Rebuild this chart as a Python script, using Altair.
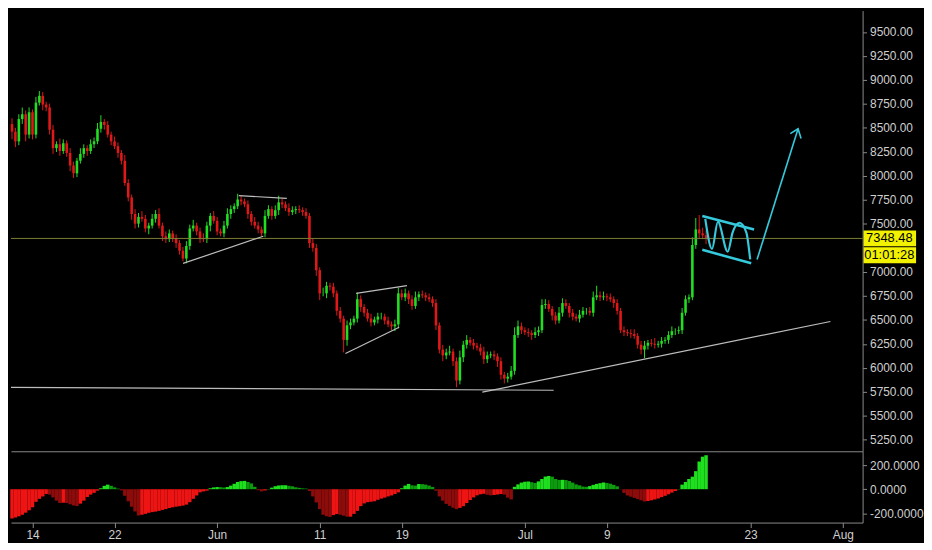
import altair as alt
import pandas as pd

# ---------------- data ----------------
START = "2018-05-12"
STEP_HOURS = 8
first_open = 8540
closes = [
    8461, 8360, 8592, 8642, 8430, 8663, 8430, 8763, 8834, 8743, 8713, 8481,
    8289, 8330, 8259, 8340, 8239, 8108, 8027, 8158, 8229, 8289, 8259, 8330,
    8360, 8491, 8562, 8531, 8430, 8360, 8309, 8239, 8158, 7926, 7775, 7603,
    7502, 7573, 7553, 7452, 7482, 7553, 7603, 7482, 7371, 7341, 7401, 7351,
    7300, 7220, 7139, 7270, 7452, 7482, 7421, 7351, 7341, 7482, 7583, 7532,
    7421, 7401, 7482, 7603, 7654, 7684, 7754, 7734, 7704, 7603, 7522, 7482,
    7442, 7401, 7583, 7654, 7583, 7643, 7724, 7704, 7664, 7623, 7643, 7654,
    7643, 7623, 7583, 7300, 7250, 7018, 6776, 6776, 6856, 6846, 6776, 6594,
    6513, 6291, 6443, 6473, 6513, 6715, 6634, 6574, 6513, 6473, 6503, 6534,
    6534, 6493, 6453, 6433, 6453, 6776, 6735, 6776, 6715, 6645, 6735, 6766,
    6756, 6735, 6715, 6675, 6443, 6190, 6130, 6160, 6170, 6069, 5868, 6110,
    6241, 6291, 6261, 6231, 6211, 6170, 6090, 6130, 6140, 6120, 6069, 5928,
    5888, 5908, 5969, 6342, 6433, 6392, 6372, 6362, 6342, 6372, 6392, 6655,
    6665, 6614, 6544, 6493, 6574, 6675, 6645, 6574, 6534, 6513, 6554, 6594,
    6594, 6574, 6735, 6756, 6735, 6745, 6735, 6715, 6675, 6594, 6392, 6372,
    6362, 6352, 6332, 6241, 6190, 6231, 6261, 6251, 6241, 6251, 6281, 6291,
    6342, 6382, 6382, 6392, 6574, 6715, 6735, 7280, 7442, 7401, 7381, 7348.48,
]
upper_wick = [
    60, 40, 50, 70, 40, 50, 30, 60, 50, 40, 30, 40,
    50, 30, 60, 40, 30, 50, 40, 30, 60, 40, 30, 50,
    40, 60, 70, 30, 40, 30, 50, 40, 30, 60, 40, 30,
    50, 40, 60, 40, 30, 50, 40, 60, 30, 50, 40, 30,
    40, 30, 40, 50, 40, 60, 30, 40, 50, 40, 30, 50,
    40, 30, 50, 60, 40, 30, 60, 40, 30, 40, 30, 50,
    40, 30, 60, 40, 30, 50, 70, 40, 30, 50, 40, 30,
    40, 30, 40, 30, 50, 40, 30, 60, 40, 30, 40, 30,
    40, 30, 50, 40, 30, 70, 40, 30, 40, 50, 30, 40,
    40, 30, 40, 30, 50, 60, 40, 50, 30, 40, 60, 30,
    40, 30, 40, 30, 40, 30, 50, 40, 60, 30, 40, 70,
    40, 50, 30, 40, 30, 40, 50, 40, 30, 40, 30, 40,
    30, 40, 50, 80, 60, 40, 30, 40, 30, 50, 40, 60,
    50, 40, 30, 40, 60, 50, 40, 30, 40, 30, 50, 40,
    30, 40, 60, 100, 40, 50, 30, 40, 30, 40, 30, 40,
    30, 40, 50, 30, 40, 50, 30, 40, 60, 30, 40, 30,
    40, 50, 30, 40, 50, 40, 30, 80, 120, 150, 60, 50,
]
lower_wick = [
    80, 60, 40, 50, 70, 40, 50, 40, 30, 60, 40, 50,
    60, 40, 50, 30, 40, 60, 50, 40, 30, 40, 50, 30,
    40, 30, 40, 50, 30, 40, 30, 50, 40, 30, 40, 60,
    50, 40, 30, 40, 60, 30, 40, 30, 50, 40, 30, 40,
    50, 40, 30, 50, 40, 30, 40, 50, 30, 40, 60, 30,
    40, 30, 40, 30, 50, 40, 30, 40, 30, 50, 40, 30,
    40, 30, 40, 30, 40, 30, 50, 40, 30, 40, 30, 40,
    30, 40, 30, 50, 40, 60, 70, 30, 50, 40, 40, 50,
    40, 130, 60, 40, 30, 40, 50, 40, 30, 40, 30, 40,
    30, 40, 30, 40, 50, 40, 30, 40, 50, 40, 30, 40,
    30, 40, 30, 40, 50, 40, 60, 40, 30, 50, 70, 40,
    50, 40, 30, 40, 30, 40, 50, 40, 30, 40, 60, 50,
    50, 40, 30, 40, 30, 40, 30, 40, 50, 30, 40, 30,
    40, 30, 50, 40, 30, 40, 30, 50, 40, 30, 40, 30,
    40, 30, 40, 30, 40, 30, 40, 30, 50, 40, 30, 40,
    30, 40, 30, 40, 50, 90, 40, 30, 40, 30, 40, 30,
    40, 30, 40, 30, 40, 30, 40, 30, 40, 50, 40, 60,
]
macd_hist = [
    -243, -235, -225, -212, -195, -175, -150, -105, -80, -60, -40, -45,
    -68, -95, -115, -112, -115, -125, -135, -140, -120, -95, -65, -45,
    -30, -12, 8, 28, 38, 28, 15, 5, -10, -55, -100, -145,
    -185, -218, -212, -205, -196, -190, -186, -180, -172, -165, -156, -150,
    -145, -141, -136, -128, -108, -80, -52, -26, -18, -12, 8, 15,
    18, 17, 14, 18, 30, 45, 60, 67, 69, 60, 48, 20,
    -8, -18, -10, 2, 13, 25, 31, 33, 33, 28, 24, 16,
    11, 7, 5, -15, -60, -110, -165, -212, -225, -230, -215, -206,
    -212, -220, -228, -228, -205, -180, -140, -118, -108, -104, -100, -88,
    -78, -70, -60, -52, -40, -26, 8, 30, 44, 32, 30, 43,
    42, 38, 30, 18, -13, -60, -95, -122, -138, -154, -166, -155,
    -141, -115, -90, -68, -51, -42, -38, -46, -51, -48, -44, -40,
    -45, -70, -85, 20, 40, 55, 62, 64, 58, 52, 65, 85,
    105, 110, 104, 85, 77, 78, 76, 68, 55, 40, 32, 22,
    20, 26, 36, 44, 50, 56, 52, 46, 36, 24, -2, -30,
    -52, -62, -72, -82, -92, -102, -98, -92, -85, -77, -66, -55,
    -42, -28, -15, 2, 38, 60, 85, 104, 150, 230, 270, 282,
]

last_price = 7348.48
last_price_label = "7348.48"
countdown_label = "01:01:28"

# the 7250.00 label is hidden behind the price boxes in the reference
price_ticks = [5250, 5500, 5750, 6000, 6250, 6500, 6750, 7000, 7500,
               7750, 8000, 8250, 8500, 8750, 9000, 9250, 9500]
hist_ticks = [-200, 0, 200]
date_ticks = ["2018-05-14", "2018-05-22", "2018-06-01", "2018-06-11", "2018-06-19",
              "2018-07-01", "2018-07-09", "2018-07-23", "2018-08-01"]

# drawn annotations: days after 2018-05-14 and prices
support_days, support_prices = [-2.10, 50.81], [5797, 5767]
trend_days, trend_prices = [43.85, 77.79], [5747, 6483]
tri1_low_days, tri1_low_prices = [14.68, 22.50], [7088, 7371]
tri1_high_days, tri1_high_prices = [20.11, 24.79], [7795, 7765]
tri2_low_days, tri2_low_prices = [30.51, 35.75], [6150, 6423]
tri2_high_days, tri2_high_prices = [31.55, 36.51], [6776, 6856]
flag_top_days, flag_top_prices = [65.30, 70.35], [7583, 7442]
flag_bot_days, flag_bot_prices = [65.30, 70.07], [7230, 7089]
wave_days = [65.59, 66.25, 66.82, 67.78, 68.26, 68.92, 69.59, 69.97]
wave_prices = [7553, 7240, 7522, 7210, 7411, 7512, 7411, 7129]
arrow_days, arrow_prices = [70.64, 74.64], [7129, 8491]
head_days, head_prices = [73.88, 74.64, 74.93], [8441, 8491, 8390]

view_days = [-2.10, 80.93]
price_domain = [5131, 9722]
hist_domain = [-277, 315]

# ---------------- tables ----------------
MS_DAY = 86_400_000


def ms(s):
    return int(pd.Timestamp(s, tz="UTC").value // 1_000_000)


anchor = ms("2018-05-14")
start = ms(START)
n = len(closes)
times = [start + i * STEP_HOURS * 3_600_000 for i in range(n)]
opens = [first_open] + closes[:-1]

UP, DOWN = "#22de22", "#e01818"
cdf = pd.DataFrame({
    "t": times,
    "o": opens,
    "c": closes,
    "hi": [max(o, c) + u for o, c, u in zip(opens, closes, upper_wick)],
    "lo": [min(o, c) - w for o, c, w in zip(opens, closes, lower_wick)],
})
cdf["col"] = [UP if c >= o else DOWN for o, c in zip(opens, closes)]

hcol = []
for i, h in enumerate(macd_hist):
    prev = macd_hist[i - 1] if i > 0 else h
    if h >= 0:
        hcol.append("#1fe01f" if h >= prev else "#0e9a0e")
    else:
        hcol.append("#ee1414" if h >= prev else "#8c0c0c")
hdf = pd.DataFrame({"t": times[: len(macd_hist)], "h": macd_hist, "hc": hcol})


def line_rows(name, days, prices):
    return [{"id": name, "k": k, "t": anchor + d * MS_DAY, "p": p}
            for k, (d, p) in enumerate(zip(days, prices))]


white_df = pd.DataFrame(
    line_rows("support", support_days, support_prices)
    + line_rows("trend", trend_days, trend_prices)
    + line_rows("t1l", tri1_low_days, tri1_low_prices)
    + line_rows("t1h", tri1_high_days, tri1_high_prices)
    + line_rows("t2l", tri2_low_days, tri2_low_prices)
    + line_rows("t2h", tri2_high_days, tri2_high_prices)
)
flag_df = pd.DataFrame(
    line_rows("ft", flag_top_days, flag_top_prices)
    + line_rows("fb", flag_bot_days, flag_bot_prices)
)
wave_df = pd.DataFrame(line_rows("wave", wave_days, wave_prices))
arrow_df = pd.DataFrame(
    line_rows("arrow", arrow_days, arrow_prices)
    + line_rows("head", head_days, head_prices)
)
label_df = pd.DataFrame({"p": [last_price], "pl": [last_price_label], "tl": [countdown_label]})

# ---------------- chart ----------------
W, H1, H2 = 860, 445, 72
FONT = "Liberation Sans"
GRAY = "#8a8a8a"
LABEL = "#cfcfcf"
CYAN = "#36c9dc"

xscale = alt.Scale(type="utc", domain=[anchor + view_days[0] * MS_DAY, anchor + view_days[1] * MS_DAY], nice=False)
yscale = alt.Scale(domain=price_domain, nice=False, zero=False)

top_x_axis = alt.Axis(labels=False, ticks=False, domain=True, domainColor=GRAY, title=None, grid=False)
price_axis = alt.Axis(orient="right", values=price_ticks, format=".2f", labelColor=LABEL,
                      labelFontSize=12, labelFont=FONT, tickColor=GRAY, tickSize=4,
                      labelPadding=3, domainColor=GRAY, grid=False, title=None)


def X():
    return alt.X("t:T", scale=xscale, axis=top_x_axis, title=None)


def Y(field):
    return alt.Y(field, scale=yscale, axis=price_axis, title=None)


wicks = alt.Chart(cdf).mark_rule(strokeWidth=1).encode(
    x=X(), y=Y("lo:Q"), y2="hi:Q", color=alt.Color("col:N", scale=None))
bodies = alt.Chart(cdf).mark_rule(strokeWidth=2.6).encode(
    x=X(), y=Y("o:Q"), y2="c:Q", color=alt.Color("col:N", scale=None))
price_line = alt.Chart(label_df).mark_rule(color="#7e7e36", strokeWidth=1).encode(y=Y("p:Q"))
white_lines = alt.Chart(white_df).mark_line(color="#bdbdbd", strokeWidth=1.2).encode(
    x=X(), y=Y("p:Q"), detail="id:N", order="k:Q")
flag_lines = alt.Chart(flag_df).mark_line(color=CYAN, strokeWidth=2.6).encode(
    x=X(), y=Y("p:Q"), detail="id:N", order="k:Q")
wave_line = alt.Chart(wave_df).mark_line(color=CYAN, strokeWidth=2.2, interpolate="monotone").encode(
    x=X(), y=Y("p:Q"), order="k:Q")
arrow_lines = alt.Chart(arrow_df).mark_line(color=CYAN, strokeWidth=1.6).encode(
    x=X(), y=Y("p:Q"), detail="id:N", order="k:Q")

box1 = alt.Chart(label_df).mark_rect(color="#f2f200", yOffset=-8, y2Offset=8).encode(
    x=alt.value(W + 1), x2=alt.value(W + 54), y=Y("p:Q"), y2="p:Q")
box2 = alt.Chart(label_df).mark_rect(color="#f2f200", yOffset=9, y2Offset=25).encode(
    x=alt.value(W + 1), x2=alt.value(W + 54), y=Y("p:Q"), y2="p:Q")
txt1 = alt.Chart(label_df).mark_text(color="#000000", fontSize=13, font=FONT, align="center",
                                     baseline="middle").encode(x=alt.value(W + 27), y=Y("p:Q"), text="pl:N")
txt2 = alt.Chart(label_df).mark_text(color="#000000", fontSize=13, font=FONT, align="center",
                                     baseline="middle", dy=17).encode(x=alt.value(W + 27), y=Y("p:Q"), text="tl:N")

top = alt.layer(wicks, bodies, price_line, white_lines, flag_lines, wave_line, arrow_lines,
                box1, box2, txt1, txt2).properties(width=W, height=H1)

date_axis = alt.Axis(
    values=[ms(d) for d in date_ticks],
    labelExpr="utcdate(datum.value) == 1 ? utcFormat(datum.value, '%b') : '' + utcdate(datum.value)",
    labelColor=LABEL, labelFontSize=12, labelFont=FONT, tickColor=GRAY, tickSize=5,
    domainColor=GRAY, grid=False, title=None, labelPadding=2, labelFlush=False, labelOverlap=False,
)
hist_axis = alt.Axis(orient="right", values=hist_ticks,
                     labelExpr="(datum.value < 0 ? '-' : '') + format(abs(datum.value), '.4f')",
                     labelColor=LABEL, labelFontSize=12, labelFont=FONT, tickColor=GRAY, tickSize=4,
                     labelPadding=3, domainColor=GRAY, grid=False, title=None)

bottom = alt.Chart(hdf).mark_rule(strokeWidth=3.5).encode(
    x=alt.X("t:T", scale=xscale, axis=date_axis),
    y=alt.Y("h:Q", scale=alt.Scale(domain=hist_domain, nice=False, zero=False), axis=hist_axis),
    y2=alt.datum(0),
    color=alt.Color("hc:N", scale=None),
).properties(width=W, height=H2)

chart = (
    alt.vconcat(top, bottom, spacing=0)
    .properties(background="#000000", padding=0)
    .configure_view(stroke=None)
)

chart.save("out.html", embed_options={"renderer": "svg", "actions": False})
